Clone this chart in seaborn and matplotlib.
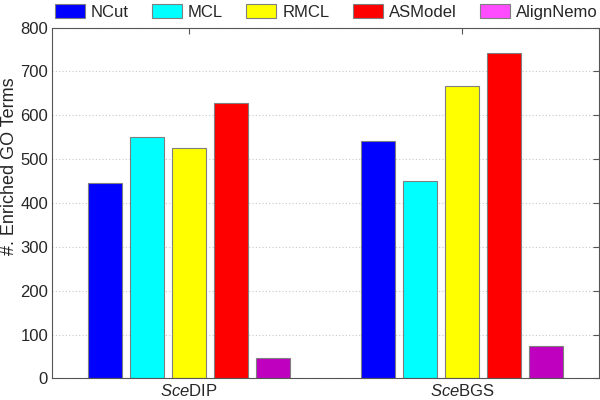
import matplotlib
matplotlib.use("Agg")
import matplotlib.pyplot as plt
from matplotlib.patches import Patch
import pandas as pd
import seaborn as sns

# data
datasets = [r"$\mathit{Sce}$DIP", r"$\mathit{Sce}$BGS"]
methods = ["NCut", "MCL", "RMCL", "ASModel", "AlignNemo"]
ncut = [446, 541]
mcl = [550, 450]
rmcl = [525, 667]
asmodel = [627, 742]
alignnemo = [47, 73]

bar_colors = ["#0000FF", "#00FFFF", "#FFFF00", "#FF0000", "#BF00BF"]
legend_colors = ["#0000FF", "#00FFFF", "#FFFF00", "#FF0000", "#FF4CFF"]

rows = []
for m, vals in zip(methods, [ncut, mcl, rmcl, asmodel, alignnemo]):
    for d, v in zip(datasets, vals):
        rows.append({"dataset": d, "method": m, "terms": v})
df = pd.DataFrame(rows)

sns.set_style("white")
plt.rcParams["font.family"] = ["Liberation Sans", "DejaVu Sans"]
plt.rcParams["mathtext.fontset"] = "custom"
plt.rcParams["mathtext.it"] = "Liberation Sans:italic"
plt.rcParams["mathtext.rm"] = "Liberation Sans"

fig = plt.figure(figsize=(6, 4), dpi=100)
ax = fig.add_axes([0.087, 0.054, 0.911, 0.877])

sns.barplot(data=df, x="dataset", y="terms", hue="method", hue_order=methods,
            palette=bar_colors, width=0.77, gap=0.19, edgecolor="#7f7f7f",
            linewidth=0.8, saturation=1, ax=ax, legend=False)

ax.set_xlim(-0.5, 1.5)
ax.set_ylim(0, 800)
ax.set_yticks(range(0, 801, 100))
ax.yaxis.grid(True, linestyle=(0, (1, 2)), color="#c8c8c8", linewidth=0.8)
ax.set_axisbelow(True)
ax.set_xlabel("")
ax.set_ylabel("#. Enriched GO Terms", fontsize=13)
ax.yaxis.set_label_coords(-0.063, 0.606)
ax.tick_params(axis="both", labelsize=12, direction="in", length=4,
               color="#555555", top=True, right=True, pad=3)
for s in ax.spines.values():
    s.set_color("#555555")
    s.set_linewidth(0.8)

handles = [Patch(facecolor=c, edgecolor="#7f7f7f", linewidth=0.8) for c in legend_colors]
fig.legend(handles, methods, loc="upper left", bbox_to_anchor=(0.075, 1.015),
           ncol=5, frameon=False, fontsize=12, handlelength=1.8, handleheight=0.9,
           columnspacing=1.4, handletextpad=0.35, borderaxespad=0.2)

fig.savefig("out.png", dpi=100)
